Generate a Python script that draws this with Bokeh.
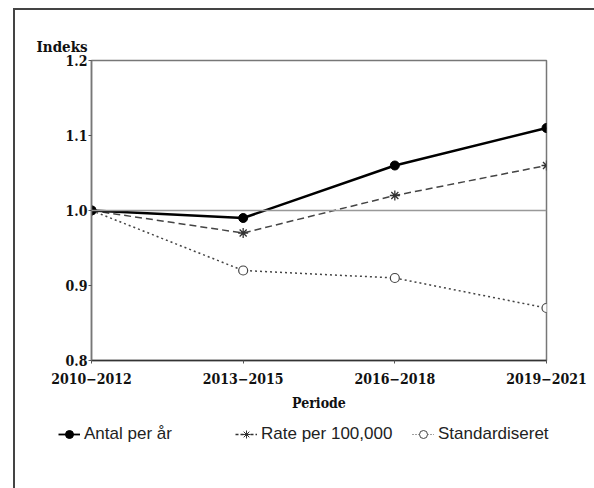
from bokeh.plotting import figure
from bokeh.layouts import column, row
from bokeh.models import Range1d, Span, Title, Legend, LegendItem, FixedTicker
from bokeh.embed import file_html
from bokeh.resources import INLINE

periods = ["2010\u22122012", "2013\u22122015", "2016\u22122018", "2019\u22122021"]
xpos = [0, 1, 2, 3]
antal = [1.00, 0.99, 1.06, 1.11]
rate = [1.00, 0.97, 1.02, 1.06]
standard = [1.00, 0.92, 0.91, 0.87]
y_ticks = [0.8, 0.9, 1.0, 1.1, 1.2]
series_names = ["Antal per år", "Rate per 100,000", "Standardiseret"]

SERIF = "DejaVu Serif Condensed"
SANS = "Liberation Sans"

STY = [
    dict(line_color="black", line_width=2.5, line_dash="solid"),
    dict(line_color="#444", line_width=1.5, line_dash="7 4"),
    dict(line_color="#444", line_width=1.5, line_dash="2 3"),
]
MK = [
    dict(marker="circle", size=9, line_color="black", fill_color="black"),
    dict(marker="asterisk", size=10, line_color="#333", line_width=1.3),
    dict(marker="circle", size=9, line_color="#444", line_width=1.2, fill_color="white"),
]
LEG_STY = [
    dict(line_color="black", line_width=1.8, line_dash="solid"),
    dict(line_color="#333", line_width=1.5, line_dash="3 2"),
    dict(line_color="#444", line_width=1.2, line_dash="1 2"),
]
LEG_MK = [
    dict(marker="circle", size=4, line_color="black", fill_color="black"),
    dict(marker="asterisk", size=5, line_color="#333", line_width=1),
    dict(marker="circle", size=4, line_color="#444", line_width=1, fill_color="white"),
]
series = [antal, rate, standard]

p = figure(width=579, height=410, x_range=Range1d(0, 3), y_range=Range1d(0.8, 1.2),
           output_backend="svg", toolbar_location=None,
           min_border_left=76, min_border_right=48, min_border_top=50, min_border_bottom=60)

p.grid.visible = False
p.outline_line_color = "#777"
p.outline_line_width = 1.5

p.xaxis.ticker = FixedTicker(ticks=xpos)
p.xaxis.major_label_overrides = {i: s for i, s in zip(xpos, periods)}
p.yaxis.ticker = FixedTicker(ticks=y_ticks)
p.yaxis.major_label_overrides = {v: f"{v:.1f}" for v in y_ticks}

for ax in (p.xaxis[0], p.yaxis[0]):
    ax.minor_tick_line_color = None
    ax.major_tick_in = 0
    ax.major_tick_out = 3
    ax.major_tick_line_color = "#555"
    ax.major_label_text_font = SERIF
    ax.major_label_text_font_style = "bold"
    ax.major_label_text_font_size = "14px"
    ax.major_label_text_color = "#111"

p.xaxis.axis_line_color = "#333"
p.xaxis.axis_line_width = 1.5
p.yaxis.axis_line_color = "#777"
p.yaxis.axis_line_width = 1.5
p.xaxis.major_label_standoff = 9
p.yaxis.major_label_standoff = 1
p.xaxis.axis_label = "Periode"
p.xaxis.axis_label_text_font = SERIF
p.xaxis.axis_label_text_font_style = "bold"
p.xaxis.axis_label_text_font_size = "14px"
p.xaxis.axis_label_text_color = "#111"
p.xaxis.axis_label_standoff = 8

p.add_layout(Span(location=1.0, dimension="width", line_color="#999", line_width=1.5))

for k in (2, 1, 0):
    p.line(xpos, series[k], **STY[k])
    p.scatter(xpos, series[k], **MK[k])

p.add_layout(Title(text="Indeks", align="left", offset=-55, standoff=10,
                   text_font=SERIF, text_font_style="bold", text_font_size="15px",
                   text_color="#111"), "above")

# legend strip below the chart (series drawn out of view, only used as legend samples)
L = figure(width=579, height=70, x_range=Range1d(10, 11), y_range=Range1d(10, 11),
           output_backend="svg", toolbar_location=None, x_axis_type=None, y_axis_type=None,
           min_border=0, min_border_left=0, min_border_right=0, min_border_top=0, min_border_bottom=0)
L.grid.visible = False
L.outline_line_color = None
items = []
for k, name in enumerate(series_names):
    rl = L.line(xpos, series[k], **LEG_STY[k])
    rm = L.scatter(xpos, series[k], **LEG_MK[k])
    items.append(LegendItem(label=name, renderers=[rl, rm]))

legend = Legend(items=items, orientation="horizontal", location=(43, 46),
                padding=0, margin=0, spacing=0, glyph_width=22, glyph_height=20,
                label_width=151, label_height=20, label_standoff=4,
                label_text_font=SANS, label_text_font_size="17px", label_text_color="#222",
                border_line_color=None, background_fill_alpha=0)
L.add_layout(legend, "center")

layout = column(p, row(L), spacing=0,
                styles={"border-left": "2px solid #444", "border-top": "2px solid #444",
                        "margin-left": "13px", "margin-top": "8px"})

open("out.html", "w").write(file_html(layout, INLINE))
